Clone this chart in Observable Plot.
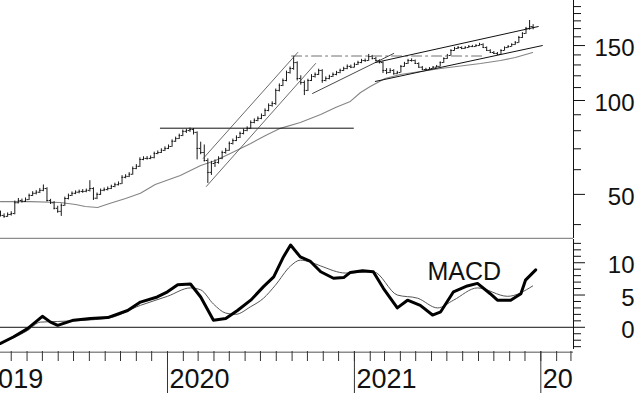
<!DOCTYPE html>
<html><head><meta charset="utf-8">
<script src="https://cdn.jsdelivr.net/npm/d3@7"></script>
<script src="https://cdn.jsdelivr.net/npm/@observablehq/plot@0.6"></script>
<style>
body{margin:0;background:#fff;}
#chart{position:relative;width:640px;height:393px;overflow:hidden;background:#fff;}
#chart svg{position:absolute;left:0;}
</style></head><body><div id="chart"></div>
<script>
// ---- weekly OHLC (first bar week of 2019-02-08) ----
const weekStart = "2019-02-08";
const open = [
43.5,42.8,42.5,43.1,43.4,47.0,47.8,47.5,48.1,49.6,
50.4,50.8,51.5,52.2,47.8,47.0,45.1,44.1,46.1,48.5,
49.6,50.4,50.8,51.1,51.1,51.5,52.2,48.6,50.0,51.5,
51.8,52.2,53.0,53.7,54.1,56.7,57.1,58.0,60.5,61.5,
64.7,65.2,65.2,65.6,67.6,68.1,69.2,70.2,71.2,74.0,
75.5,77.2,79.6,80.1,80.7,79.0,70.2,68.1,64.2,58.8,
62.8,63.3,65.2,68.1,69.2,72.8,74.4,76.1,78.4,80.1,
81.4,85.0,86.3,87.6,89.5,92.9,96.4,97.8,107.7,111.7,
115.9,122.9,126.6,132.3,117.6,114.2,107.7,115.9,119.4,121.2,
124.8,115.9,117.6,119.4,121.2,122.9,124.8,126.6,128.6,127.8,
130.5,132.3,134.3,134.3,138.4,136.3,134.3,132.3,124.8,122.9,
124.8,121.9,122.9,128.6,131.4,134.3,134.3,131.4,127.8,125.7,
125.7,126.6,127.8,128.6,132.3,136.3,139.4,144.6,146.8,147.8,
146.8,147.8,148.9,148.9,150.0,151.1,147.8,144.6,142.5,141.5,
140.5,144.6,147.8,148.9,151.1,153.3,159.2,164.0,170.2,172.6];
const high = [
44.2,43.3,43.6,44.0,47.6,48.5,48.3,48.7,50.1,51.0,
51.4,52.2,53.6,52.5,48.2,47.4,45.8,46.6,49.0,50.1,
50.9,51.3,51.6,51.8,52.0,55.3,52.5,50.5,52.0,52.4,
52.8,53.5,54.3,54.8,57.4,57.8,58.7,61.2,62.3,65.5,
66.0,66.1,66.4,68.3,68.9,70.0,71.0,72.0,74.8,76.3,
78.0,80.4,80.9,81.6,81.3,79.3,73.5,72.0,65.0,63.8,
64.5,66.0,68.8,70.2,73.6,75.2,77.0,79.2,81.0,82.3,
86.0,87.3,88.6,90.5,94.0,97.5,99.0,108.8,113.0,117.2,
124.2,128.0,138.5,133.0,120.0,115.5,117.0,121.0,122.5,126.0,
125.5,119.0,120.5,122.5,124.0,126.0,127.8,130.0,129.8,131.8,
133.6,135.5,135.8,140.5,139.5,137.5,135.0,133.0,126.5,126.5,
125.5,124.0,129.5,132.5,135.5,136.0,134.8,132.0,128.5,126.8,
127.5,128.5,129.5,133.0,137.0,140.5,145.5,148.0,149.0,148.5,
148.8,150.0,150.2,151.0,152.5,152.0,148.5,145.5,143.5,142.5,
145.5,148.5,150.0,152.0,154.5,160.5,165.0,171.5,180.5,175.0];
const low = [
42.3,41.9,42.2,42.6,43.0,46.6,46.9,47.1,47.8,49.2,
49.8,50.3,51.0,47.3,46.4,44.6,43.5,42.5,45.8,48.0,
49.2,49.9,50.2,50.4,50.6,50.9,47.8,48.1,49.6,51.0,
51.3,51.8,52.5,53.2,53.8,56.1,56.6,57.6,60.0,61.0,
64.1,64.4,64.6,65.0,67.0,67.6,68.6,69.6,70.8,73.4,
75.0,76.6,78.4,79.0,77.5,64.5,67.0,63.5,54.2,57.5,
61.0,62.5,64.6,67.3,68.7,72.0,73.8,75.5,77.6,79.4,
80.9,84.2,85.5,86.8,88.8,92.0,95.2,96.5,106.5,110.8,
114.8,121.5,125.0,115.5,112.0,103.7,106.8,115.0,118.0,120.2,
113.5,114.8,116.5,118.5,120.0,121.8,123.8,125.5,126.5,127.0,
129.5,131.2,132.5,133.5,135.0,133.0,131.0,122.0,121.0,122.0,
120.5,121.0,122.5,127.8,130.5,132.8,130.5,127.0,125.0,124.8,
125.0,126.0,127.0,128.0,131.5,135.5,138.8,143.8,145.8,145.5,
146.0,147.0,147.8,148.0,149.2,147.0,143.8,141.8,140.5,139.5,
140.0,144.0,147.0,148.2,150.2,152.5,158.0,163.0,168.0,168.5];
const close = [
42.8,42.5,43.1,43.4,47.0,47.8,47.5,48.1,49.6,50.4,
50.8,51.5,52.2,47.8,47.0,45.1,44.1,46.1,48.5,49.6,
50.4,50.8,51.1,51.1,51.5,52.2,48.6,50.0,51.5,51.8,
52.2,53.0,53.7,54.1,56.7,57.1,58.0,60.5,61.5,64.7,
65.2,65.2,65.6,67.6,68.1,69.2,70.2,71.2,74.0,75.5,
77.2,79.6,80.1,80.7,79.0,70.2,68.1,64.2,58.8,62.8,
63.3,65.2,68.1,69.2,72.8,74.4,76.1,78.4,80.1,81.4,
85.0,86.3,87.6,89.5,92.9,96.4,97.8,107.7,111.7,115.9,
122.9,126.6,132.3,117.6,114.2,107.7,115.9,119.4,121.2,124.8,
115.9,117.6,119.4,121.2,122.9,124.8,126.6,128.6,127.8,130.5,
132.3,134.3,134.3,138.4,136.3,134.3,132.3,124.8,122.9,124.8,
121.9,122.9,128.6,131.4,134.3,134.3,131.4,127.8,125.7,125.7,
126.6,127.8,128.6,132.3,136.3,139.4,144.6,146.8,147.8,146.8,
147.8,148.9,148.9,150.0,151.1,147.8,144.6,142.5,141.5,140.5,
144.6,147.8,148.9,151.1,153.3,159.2,164.0,170.2,172.6,171.4];

// ---- long moving average ----
const maDates = ["2019-02-08","2019-04-08","2019-06-05","2019-07-05","2019-07-24","2019-08-17","2019-09-11","2019-10-11","2019-11-09","2019-12-08","2020-01-26","2020-03-06","2020-04-04","2020-05-03","2020-06-12","2020-07-11","2020-08-09","2020-09-17","2020-10-27","2020-11-25","2020-12-24","2021-01-13","2021-02-01","2021-03-02","2021-04-01","2021-05-10","2021-06-19","2021-07-28","2021-09-05","2021-10-14","2021-11-12","2021-12-16"];
const maValues = [47.4,47.4,47.1,46.4,45.7,45.4,46.8,48.5,50.4,53.8,57.5,61.9,64.2,67.6,72.8,77.2,81.4,85.0,90.2,95.0,99.3,106.1,110.9,117.6,121.2,123.9,126.6,129.0,131.4,134.3,137.3,142.5];

// ---- drawn trend lines [date, price] ----
const resistanceLine = [["2019-12-18", 81.5], ["2020-12-30", 81.5]];
const highLine = [["2020-08-31", 138.8], ["2021-09-10", 138.8]];
const channelUpper = [["2020-03-11", 65.2], ["2020-09-12", 142.5]];
const channelLower = [["2020-03-17", 53.0], ["2020-10-17", 131.4]];
const supportA = [["2020-10-11", 105.3], ["2021-03-19", 141.5]];
const trendUpper = [["2021-02-11", 132.3], ["2021-12-27", 172.6]];
const trendLower = [["2021-02-11", 115.1], ["2022-01-04", 150.0]];

// ---- MACD ----
const macdDates = ["2019-02-08","2019-03-05","2019-04-02","2019-05-01","2019-05-17","2019-05-31","2019-07-01","2019-08-03","2019-09-06","2019-10-15","2019-11-09","2019-12-12","2020-01-01","2020-01-21","2020-02-15","2020-03-06","2020-03-31","2020-04-24","2020-05-17","2020-06-12","2020-07-07","2020-07-27","2020-08-15","2020-08-29","2020-09-17","2020-10-07","2020-10-27","2020-11-21","2020-12-11","2020-12-24","2021-01-17","2021-02-07","2021-02-27","2021-03-26","2021-04-15","2021-05-10","2021-06-03","2021-06-19","2021-07-14","2021-08-10","2021-08-30","2021-09-24","2021-10-08","2021-11-03","2021-11-23","2021-12-02","2021-12-22"];
const macdValues = [-2.5,-1.5,-0.2,1.7,0.8,0.3,1.1,1.35,1.5,2.6,3.9,4.7,5.5,6.6,6.7,4.7,1.1,1.35,2.6,4.2,6.3,7.8,10.9,12.75,10.9,10.2,8.6,7.6,7.7,8.5,8.75,8.6,6.0,3.0,4.2,3.4,1.9,2.4,5.5,6.4,6.8,5.2,4.2,4.2,5.2,7.3,8.9];
const signalDates = ["2019-02-08","2019-04-02","2019-04-27","2019-05-31","2019-09-06","2019-11-09","2020-01-01","2020-02-15","2020-03-06","2020-03-31","2020-04-24","2020-05-13","2020-06-12","2020-07-07","2020-07-30","2020-08-29","2020-09-17","2020-10-07","2020-10-27","2020-12-15","2021-02-07","2021-03-26","2021-05-05","2021-06-13","2021-07-14","2021-08-30","2021-10-28","2021-12-16"];
const signalValues = [-2.5,-0.5,0.8,0.9,1.4,3.4,4.8,6.1,5.8,3.6,2.2,2.0,3.2,4.5,6.5,9.5,10.4,10.1,9.5,8.4,8.6,5.0,4.5,3.0,4.2,6.1,4.8,6.4];

// ---- axis ticks ----
const priceLabels = [50, 100, 150];
const priceMinor = [40, 60, 70, 80, 90, 110, 120, 130, 140, 160, 170, 180, 190, 200];
const macdLabels = [0, 5, 10];
const macdMinor = [-3,-2,-1,1,2,3,4,6,7,8,9,11,12,13];

// ---- build ----
const font = '"Liberation Sans", Arial, Helvetica, sans-serif';
const parse = d3.utcParse("%Y-%m-%d");
const xDomain = [parse("2019-02-08"), parse("2022-03-06")];
const start = parse(weekStart);
const bars = close.map((c, i) => ({date: d3.utcDay.offset(start, 7 * i), open: open[i], high: high[i], low: low[i], close: c}));
const ma = maDates.map((d, i) => ({date: parse(d), value: maValues[i]}));
const toLine = arr => arr.map(([d, v]) => ({date: parse(d), value: v}));
const macd = macdDates.map((d, i) => ({date: parse(d), value: macdValues[i]}));
const signal = signalDates.map((d, i) => ({date: parse(d), value: signalValues[i]}));

const priceLo = 36.1, priceHi = 209.2;
const macdLo = -3.75, macdHi = 13.6;
const barColor = "#1a1a1a";
const tl = (arr, o = {}) => Plot.line(toLine(arr), {x: "date", y: "value", stroke: "#222", strokeWidth: 0.9, ...o});

const pricePlot = Plot.plot({
  width: 640, height: 239, marginTop: 0, marginRight: 67, marginBottom: 1, marginLeft: 0,
  style: {fontFamily: font, background: "white"},
  x: {type: "utc", domain: xDomain, axis: null},
  y: {type: "log", domain: [priceLo, priceHi], axis: null},
  marks: [
    Plot.line(ma, {x: "date", y: "value", stroke: "#858585", strokeWidth: 1.1}),
    Plot.ruleX(bars, {x: "date", y1: "low", y2: "high", stroke: barColor, strokeWidth: 1}),
    Plot.ruleY(bars, {y: "open", x1: d => d3.utcDay.offset(d.date, -3), x2: "date", stroke: barColor}),
    Plot.ruleY(bars, {y: "close", x1: "date", x2: d => d3.utcDay.offset(d.date, 3), stroke: barColor}),
    tl(resistanceLine, {stroke: "#111", strokeWidth: 1}),
    tl(highLine, {stroke: "#707070", strokeWidth: 1.1, strokeDasharray: "10,4,2,4"}),
    tl(channelUpper, {stroke: "#444", strokeWidth: 0.8}),
    tl(channelLower, {stroke: "#444", strokeWidth: 0.8}),
    tl(supportA, {stroke: "#333", strokeWidth: 0.9}),
    tl(trendUpper, {stroke: "#111", strokeWidth: 1}),
    tl(trendLower, {stroke: "#111", strokeWidth: 1}),
    Plot.ruleY([priceLo], {stroke: "#8c8c8c", strokeWidth: 1.6}),
    Plot.ruleX([xDomain[1]], {stroke: "#111", strokeWidth: 1}),
    Plot.axisY({anchor: "right", ticks: priceMinor, tickSize: 7, tickFormat: () => "", label: null, stroke: "#111"}),
    Plot.axisY({anchor: "right", ticks: priceLabels, tickSize: 11, tickFormat: () => "", label: null, stroke: "#111"}),
    Plot.text(priceLabels, {y: d => d, text: d => String(d), frameAnchor: "right", dx: 61, dy: 3, textAnchor: "end", fontSize: 24, fill: "#111"})
  ]
});

const macdPlot = Plot.plot({
  width: 640, height: 112, marginTop: 0, marginRight: 67, marginBottom: 0, marginLeft: 0,
  style: {fontFamily: font, background: "white"},
  x: {type: "utc", domain: xDomain, axis: null},
  y: {domain: [macdLo, macdHi], axis: null},
  marks: [
    Plot.ruleY([0], {stroke: "#111", strokeWidth: 1}),
    Plot.line(signal, {x: "date", y: "value", stroke: "#555", strokeWidth: 1, curve: "monotone-x"}),
    Plot.line(macd, {x: "date", y: "value", stroke: "#000", strokeWidth: 3, strokeLinejoin: "round"}),
    Plot.ruleX([xDomain[1]], {y1: macdHi, y2: -3.44, stroke: "#111", strokeWidth: 1}),
    Plot.axisY({anchor: "right", ticks: macdMinor, tickSize: 7, tickFormat: () => "", label: null, stroke: "#111"}),
    Plot.axisY({anchor: "right", ticks: macdLabels, tickSize: 11, tickFormat: () => "", label: null, stroke: "#111"}),
    Plot.text(macdLabels, {y: d => d, text: d => String(d), frameAnchor: "right", dx: 61, dy: 3, textAnchor: "end", fontSize: 24, fill: "#111"}),
    Plot.text(["MACD"], {x: parse("2021-05-24"), y: 8.64, text: d => d, textAnchor: "start", fontSize: 25, fill: "#111"})
  ]
});

const months = d3.utcMonth.range(xDomain[0], xDomain[1]);
const years = d3.utcYear.range(parse("2019-01-01"), xDomain[1]);
const axisPlot = Plot.plot({
  width: 573, height: 42, margin: 0,
  style: {fontFamily: font, background: "white"},
  x: {type: "utc", domain: xDomain, axis: null},
  y: {type: "identity"},
  marks: [
    Plot.ruleY([0.8], {stroke: "#8c8c8c", strokeWidth: 1.6}),
    Plot.ruleX(months, {x: d => d, y1: 0, y2: 10, stroke: "#333", strokeWidth: 1}),
    Plot.ruleX(years, {x: d => d, y1: 0, y2: 42, stroke: "#333", strokeWidth: 1}),
    Plot.text(years, {x: d => d, y: 36.2, text: d3.utcFormat("%Y"), dx: 2, textAnchor: "start", lineAnchor: "bottom", fontSize: 27, fill: "#111"})
  ]
});

const chart = document.getElementById("chart");
pricePlot.style.top = "0px";
macdPlot.style.top = "239px";
axisPlot.style.top = "351px";
chart.append(pricePlot, macdPlot, axisPlot);
</script></body></html>
